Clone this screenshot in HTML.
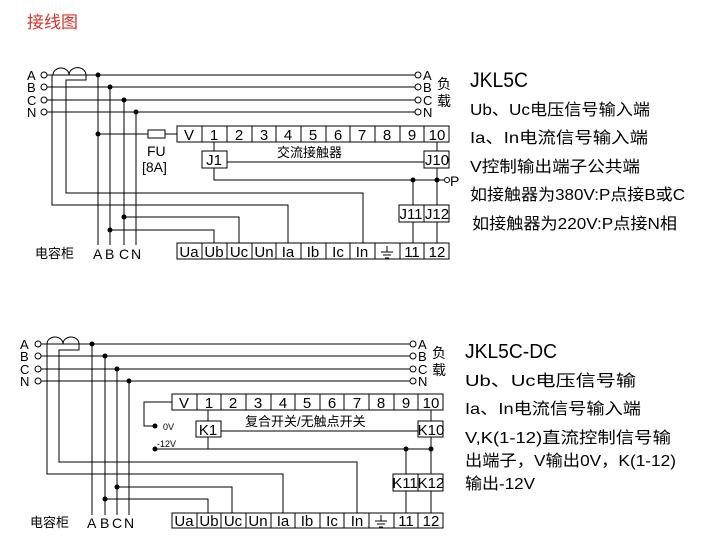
<!DOCTYPE html>
<html><head><meta charset="utf-8"><style>
html,body{margin:0;padding:0;background:#fff;}
svg{display:block;}
text{font-family:"Liberation Sans","Noto Sans CJK SC",sans-serif;fill:#000;}
.c text{font-size:15px;}
</style></head><body>
<svg width="717" height="553" viewBox="0 0 717 553" xmlns="http://www.w3.org/2000/svg">
<text x="27" y="28" font-size="17" style="fill:#e0302a">接线图</text>

<!-- ===== Diagram 1 ===== -->
<g stroke="#000" stroke-width="1" fill="none">
  <line x1="47" y1="75" x2="415" y2="75"/>
  <line x1="47" y1="87" x2="415" y2="87"/>
  <line x1="47" y1="100" x2="415" y2="100"/>
  <line x1="47" y1="112" x2="415" y2="112"/>
  <circle cx="44" cy="75" r="3" fill="#fff"/><circle cx="44" cy="87" r="3" fill="#fff"/>
  <circle cx="44" cy="100" r="3" fill="#fff"/><circle cx="44" cy="112" r="3" fill="#fff"/>
  <circle cx="418" cy="75" r="3" fill="#fff"/><circle cx="418" cy="87" r="3" fill="#fff"/>
  <circle cx="418" cy="100" r="3" fill="#fff"/><circle cx="418" cy="112" r="3" fill="#fff"/>
  <path d="M53 75 A8 7 0 0 1 69 75 A8 7 0 0 1 86 75"/>
  <path d="M86 75 V80 H66 V193 H363 V243"/>
  <path d="M52 75 V205 H288 V243"/>
  <line x1="98" y1="75" x2="98" y2="245"/>
  <line x1="110" y1="87" x2="110" y2="245"/>
  <line x1="124" y1="100" x2="124" y2="245"/>
  <line x1="136" y1="112" x2="136" y2="245"/>
  <path d="M98 134 H148 M165 134 H177"/>
  <rect x="148" y="130" width="17" height="8"/>
  <rect x="177" y="126" width="272" height="16"/>
  <rect x="177" y="243" width="272" height="16"/>
  <path d="M202 126V142M227 126V142M252 126V142M276 126V142M301 126V142M326 126V142M350 126V142M375 126V142M400 126V142M424 126V142"/>
  <path d="M202 243V259M227 243V259M252 243V259M276 243V259M301 243V259M326 243V259M350 243V259M375 243V259M400 243V259M424 243V259"/>
  <rect x="202" y="151" width="25" height="17"/>
  <rect x="424" y="151" width="25" height="17"/>
  <path d="M214 142V151M227 162H424M214 168V180H444M437 142V151M437 168V205M413 180V205"/>
  <circle cx="447" cy="180" r="2.5" fill="#fff"/>
  <rect x="399" y="205" width="25" height="17"/>
  <rect x="424" y="205" width="25" height="17"/>
  <path d="M413 222V243M437 222V243"/>
  <path d="M124 217H239V243M110 230H214V243"/>
  <path d="M387 246V252M381 252H393M383 255H391M385 258H389"/>
</g>
<g fill="#000">
  <circle cx="98" cy="75" r="2.5"/><circle cx="110" cy="87" r="2.5"/><circle cx="124" cy="100" r="2.5"/><circle cx="136" cy="112" r="2.5"/>
  <circle cx="98" cy="134" r="2.5"/><circle cx="413" cy="180" r="2.5"/><circle cx="437" cy="180" r="2.5"/>
  <circle cx="124" cy="217" r="2.5"/><circle cx="110" cy="230" r="2.5"/>
</g>
<g font-size="13">
  <text x="27" y="80">A</text><text x="27" y="92">B</text><text x="27" y="105">C</text><text x="27" y="117">N</text>
  <text x="423" y="80">A</text><text x="423" y="92">B</text><text x="423" y="105">C</text><text x="423" y="117">N</text>
  <text x="437" y="89" font-size="14">负</text><text x="437" y="106" font-size="14">载</text>
  <text x="450" y="186" font-size="14">P</text>
  <text x="147" y="156" font-size="14">FU</text><text x="142" y="172" font-size="14">[8A]</text>
  <text x="277" y="157" font-size="13">交流接触器</text>
  <text x="35" y="258" font-size="13">电容柜</text>
  <text x="93" y="259" font-size="14">A</text><text x="105" y="259" font-size="14">B</text><text x="119" y="259" font-size="14">C</text><text x="131" y="259" font-size="14">N</text>
</g>
<g class="c" text-anchor="middle">
  <text x="189" y="140">V</text><text x="214" y="140">1</text><text x="239" y="140">2</text><text x="264" y="140">3</text><text x="288" y="140">4</text><text x="313" y="140">5</text><text x="338" y="140">6</text><text x="362" y="140">7</text><text x="387" y="140">8</text><text x="412" y="140">9</text><text x="437" y="140">10</text>
  <text x="214" y="165">J1</text><text x="437" y="165">J10</text><text x="411" y="219">J11</text><text x="437" y="219">J12</text>
  <text x="189" y="257">Ua</text><text x="214" y="257">Ub</text><text x="239" y="257">Uc</text><text x="264" y="257">Un</text><text x="288" y="257">Ia</text><text x="313" y="257">Ib</text><text x="338" y="257">Ic</text><text x="362" y="257">In</text><text x="412" y="257">11</text><text x="437" y="257">12</text>
</g>
<text x="470" y="87" font-size="21" textLength="58" lengthAdjust="spacingAndGlyphs">JKL5C</text>
<g font-size="16">
  <text x="470" y="115" textLength="180" lengthAdjust="spacingAndGlyphs">Ub、Uc电压信号输入端</text>
  <text x="470" y="143" textLength="178" lengthAdjust="spacingAndGlyphs">Ia、In电流信号输入端</text>
  <text x="470" y="172" textLength="170" lengthAdjust="spacingAndGlyphs">V控制输出端子公共端</text>
  <text x="470" y="200" textLength="215" lengthAdjust="spacingAndGlyphs">如接触器为380V:P点接B或C</text>
  <text x="472" y="229" textLength="205" lengthAdjust="spacingAndGlyphs">如接触器为220V:P点接N相</text>
</g>

<!-- ===== Diagram 2 ===== -->
<g stroke="#000" stroke-width="1" fill="none">
  <line x1="41" y1="344" x2="410" y2="344"/>
  <line x1="41" y1="356" x2="410" y2="356"/>
  <line x1="41" y1="369" x2="410" y2="369"/>
  <line x1="41" y1="381" x2="410" y2="381"/>
  <circle cx="38" cy="344" r="3" fill="#fff"/><circle cx="38" cy="356" r="3" fill="#fff"/>
  <circle cx="38" cy="369" r="3" fill="#fff"/><circle cx="38" cy="381" r="3" fill="#fff"/>
  <circle cx="413" cy="344" r="3" fill="#fff"/><circle cx="413" cy="356" r="3" fill="#fff"/>
  <circle cx="413" cy="369" r="3" fill="#fff"/><circle cx="413" cy="381" r="3" fill="#fff"/>
  <path d="M47 344 A8 7 0 0 1 63 344 A8 7 0 0 1 79 344"/>
  <path d="M79 344 V350 H59 V462 H357 V513"/>
  <path d="M47 344 V474 H283 V513"/>
  <line x1="92" y1="344" x2="92" y2="515"/>
  <line x1="105" y1="356" x2="105" y2="515"/>
  <line x1="117" y1="369" x2="117" y2="515"/>
  <line x1="129" y1="381" x2="129" y2="515"/>
  <rect x="172" y="394" width="271" height="16"/>
  <rect x="172" y="513" width="271" height="15"/>
  <path d="M197 394V410M221 394V410M246 394V410M271 394V410M295 394V410M320 394V410M344 394V410M369 394V410M394 394V410M418 394V410"/>
  <path d="M197 513V528M221 513V528M246 513V528M271 513V528M295 513V528M320 513V528M344 513V528M369 513V528M394 513V528M418 513V528"/>
  <path d="M172 402H144V426H155"/>
  <rect x="196" y="421" width="25" height="16"/>
  <rect x="418" y="421" width="25" height="16"/>
  <path d="M208 410V421M221 431H418M431 410V421M208 437V449M155 449H431M431 437V474M406 449V474"/>
  <rect x="393" y="474" width="25" height="17"/>
  <rect x="418" y="474" width="25" height="17"/>
  <path d="M406 491V513M431 491V513"/>
  <path d="M117 487H232V513M105 499H208V513"/>
  <path d="M381 515V521M375 521H387M377 524H385M379 527H383"/>
</g>
<g fill="#000">
  <circle cx="92" cy="344" r="2.5"/><circle cx="105" cy="356" r="2.5"/><circle cx="117" cy="369" r="2.5"/><circle cx="129" cy="381" r="2.5"/>
  <circle cx="155" cy="426" r="2.5"/><circle cx="155" cy="449" r="2.5"/>
  <circle cx="406" cy="449" r="2.5"/><circle cx="431" cy="449" r="2.5"/>
  <circle cx="117" cy="487" r="2.5"/><circle cx="105" cy="499" r="2.5"/>
</g>
<g font-size="13">
  <text x="20" y="349">A</text><text x="20" y="361">B</text><text x="20" y="374">C</text><text x="20" y="386">N</text>
  <text x="418" y="349">A</text><text x="418" y="361">B</text><text x="418" y="374">C</text><text x="418" y="386">N</text>
  <text x="432" y="358" font-size="14">负</text><text x="432" y="375" font-size="14">载</text>
  <text x="163" y="430" font-size="9">0V</text>
  <text x="157" y="447" font-size="9">-12V</text>
  <text x="245" y="426" font-size="13">复合开关/无触点开关</text>
  <text x="30" y="527" font-size="13">电容柜</text>
  <text x="87" y="528" font-size="14">A</text><text x="100" y="528" font-size="14">B</text><text x="112" y="528" font-size="14">C</text><text x="124" y="528" font-size="14">N</text>
</g>
<g class="c" text-anchor="middle">
  <text x="184" y="408">V</text><text x="209" y="408">1</text><text x="233" y="408">2</text><text x="258" y="408">3</text><text x="283" y="408">4</text><text x="307" y="408">5</text><text x="332" y="408">6</text><text x="357" y="408">7</text><text x="381" y="408">8</text><text x="406" y="408">9</text><text x="431" y="408">10</text>
  <text x="208" y="435">K1</text><text x="431" y="435">K10</text><text x="405" y="488">K11</text><text x="431" y="488">K12</text>
  <text x="184" y="526">Ua</text><text x="209" y="526">Ub</text><text x="233" y="526">Uc</text><text x="258" y="526">Un</text><text x="283" y="526">Ia</text><text x="307" y="526">Ib</text><text x="332" y="526">Ic</text><text x="357" y="526">In</text><text x="406" y="526">11</text><text x="431" y="526">12</text>
</g>
<text x="465" y="358" font-size="20" textLength="92" lengthAdjust="spacingAndGlyphs">JKL5C-DC</text>
<g font-size="16">
  <text x="465" y="386" textLength="171" lengthAdjust="spacingAndGlyphs">Ub、Uc电压信号输</text>
  <text x="465" y="414" textLength="176" lengthAdjust="spacingAndGlyphs">Ia、In电流信号输入端</text>
  <text x="465" y="443" textLength="206" lengthAdjust="spacingAndGlyphs">V,K(1-12)直流控制信号输</text>
  <text x="465" y="466" textLength="211" lengthAdjust="spacingAndGlyphs">出端子，V输出0V，K(1-12)</text>
  <text x="465" y="489" textLength="70" lengthAdjust="spacingAndGlyphs">输出-12V</text>
</g>
</svg>
</body></html>
